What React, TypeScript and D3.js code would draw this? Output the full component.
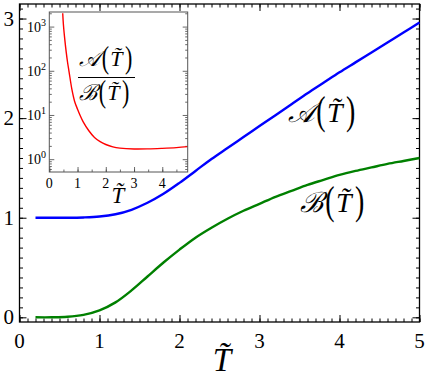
import React, { useEffect, useRef } from 'react';
import * as d3 from 'd3';

// main curves
const tGrid = [0.2, 0.4, 0.6, 0.8, 1.0, 1.2, 1.4, 1.6, 1.8, 2.0, 2.2, 2.4, 2.6, 2.8, 3.0, 3.2, 3.4, 3.6, 3.8, 4.0, 4.2, 4.4, 4.6, 4.8, 5.0];
const aVals = [1.0, 1.0, 1.0, 1.003, 1.012, 1.035, 1.08, 1.15, 1.24, 1.35, 1.47, 1.59, 1.7, 1.81, 1.92, 2.03, 2.14, 2.25, 2.355, 2.46, 2.56, 2.66, 2.76, 2.86, 2.96];
const bVals = [0.0, 0.0, 0.005, 0.025, 0.07, 0.15, 0.27, 0.41, 0.55, 0.68, 0.8, 0.9, 0.99, 1.07, 1.14, 1.21, 1.27, 1.33, 1.38, 1.43, 1.47, 1.505, 1.54, 1.57, 1.6];

// inset ratio A/B
const ratioT = [0.475, 0.5, 0.55, 0.6, 0.65, 0.7, 0.8, 0.9, 1.0, 1.1, 1.2, 1.4, 1.6, 1.8, 2.0, 2.25, 2.5, 3.0, 3.5, 4.0, 4.5, 4.9];
const ratioVals = [2000, 1100, 500, 260, 150, 95, 38, 20, 13.5, 9.5, 7, 4.4, 3.1, 2.5, 2.15, 1.9, 1.78, 1.7, 1.71, 1.76, 1.83, 1.92];

const xTicks = [0, 1, 2, 3, 4, 5];
const yTicks = [0, 1, 2, 3];
const insetXTicks = [0, 1, 2, 3, 4];
const insetYTicks = [1, 10, 100, 1000];

const W = 429;
const H = 379;
const serif = "'Liberation Serif', 'Times New Roman', 'DejaVu Serif', serif";

const App = () => {
    const svgRef = useRef(null);

    useEffect(() => {
        const svg = d3.select(svgRef.current);
        svg.selectAll('*').remove();

        const x = d3.scaleLinear().domain([0, 5]).range([19.5, 419.5]);
        const y = d3.scaleLinear().domain([-0.047, 3.146]).range([322, 4]);

        // frame ticks (inward, all four sides)
        const minorX = d3.range(0, 5.001, 0.1).map(v => +v.toFixed(2));
        const minorY = d3.range(0, 3.101, 0.1).map(v => +v.toFixed(2));

        const tickAxis = (axis, transform) => {
            const g = svg.append('g').attr('transform', transform).call(axis);
            g.select('.domain').remove();
            g.selectAll('line').attr('stroke', '#000').attr('stroke-width', 1);
            g.selectAll('text').remove();
        };
        tickAxis(d3.axisBottom(x).tickValues(minorX).tickSize(-3.5), `translate(0,322)`);
        tickAxis(d3.axisBottom(x).tickValues(xTicks).tickSize(-7), `translate(0,322)`);
        tickAxis(d3.axisTop(x).tickValues(minorX).tickSize(-3.5), `translate(0,4)`);
        tickAxis(d3.axisTop(x).tickValues(xTicks).tickSize(-7), `translate(0,4)`);
        tickAxis(d3.axisLeft(y).tickValues(minorY).tickSize(-3.5), `translate(19.5,0)`);
        tickAxis(d3.axisLeft(y).tickValues(yTicks).tickSize(-7), `translate(19.5,0)`);
        tickAxis(d3.axisRight(y).tickValues(minorY).tickSize(-3.5), `translate(419.5,0)`);
        tickAxis(d3.axisRight(y).tickValues(yTicks).tickSize(-7), `translate(419.5,0)`);

        svg.append('rect')
            .attr('x', 19.5).attr('y', 4)
            .attr('width', 400).attr('height', 318)
            .attr('fill', 'none')
            .attr('stroke', '#000')
            .attr('stroke-width', 1.3);

        // tick labels
        svg.selectAll('.xlab').data(xTicks).enter().append('text')
            .attr('x', d => x(d)).attr('y', 348)
            .attr('text-anchor', 'middle')
            .attr('font-family', serif).attr('font-size', 21)
            .text(d => d);
        svg.selectAll('.ylab').data(yTicks).enter().append('text')
            .attr('x', 14).attr('y', d => y(d) + 7)
            .attr('text-anchor', 'end')
            .attr('font-family', serif).attr('font-size', 21)
            .text(d => d);

        svg.append('text')
            .attr('x', 222).attr('y', 371)
            .attr('text-anchor', 'middle')
            .attr('font-family', serif).attr('font-size', 33).attr('font-style', 'italic')
            .text('T\u0303');

        // curves
        const line = d3.line().x(d => x(d[0])).y(d => y(d[1])).curve(d3.curveCatmullRom.alpha(0.5));
        svg.append('path')
            .attr('d', line(tGrid.map((t, i) => [t, bVals[i]])))
            .attr('fill', 'none').attr('stroke', '#008000').attr('stroke-width', 2.4);
        svg.append('path')
            .attr('d', line(tGrid.map((t, i) => [t, aVals[i]])))
            .attr('fill', 'none').attr('stroke', '#0000ff').attr('stroke-width', 2.4);

        // "L(T~)" labels with tall thin brackets
        const fnLabel = (parent, letter, px, py, size, stretch) => {
            const put = (txt, italic) => parent.append('text')
                .attr('font-family', serif).attr('font-size', size)
                .attr('font-style', italic ? 'italic' : 'normal')
                .text(txt);
            const a = put(letter, true).attr('x', px).attr('y', py);
            let cx = px + a.node().getComputedTextLength() + size * 0.08;
            const bracket = (ch) => {
                const b = put(ch, false)
                    .attr('transform', `translate(${cx},${py + size * 0.07}) scale(1,${stretch})`);
                cx += b.node().getComputedTextLength() + size * 0.05;
            };
            bracket('(');
            const tt = put('T\u0303', true).attr('x', cx).attr('y', py);
            cx += tt.node().getComputedTextLength() + size * 0.12;
            bracket(')');
            return cx;
        };
        fnLabel(svg, '\u{1D49C}', 288, 122, 28, 1.45);
        fnLabel(svg, '\u212C', 300, 212, 28, 1.45);

        // inset
        const ix = d3.scaleLinear().domain([0, 4.9]).range([49.3, 187.7]);
        const iy = d3.scaleLog().domain([Math.pow(10, -0.29), Math.pow(10, 3.33)]).range([172, 12]);

        const inset = svg.append('g');
        inset.append('rect')
            .attr('x', 49.3).attr('y', 12)
            .attr('width', 138.4).attr('height', 160)
            .attr('fill', '#fff');

        const iMinorX = d3.range(0, 4.9, 0.5);
        const iMinorY = [];
        [0.1, 1, 10, 100, 1000].forEach(dec => {
            for (let k = 2; k <= 9; k++) {
                const v = dec * k;
                if (v > iy.domain()[0] && v < iy.domain()[1]) iMinorY.push(v);
            }
        });
        const insetAxis = (axis, transform) => {
            const g = inset.append('g').attr('transform', transform).call(axis);
            g.select('.domain').remove();
            g.selectAll('line').attr('stroke', '#444').attr('stroke-width', 0.8);
            g.selectAll('text').remove();
        };
        insetAxis(d3.axisBottom(ix).tickValues(iMinorX).tickSize(-2.5), 'translate(0,172)');
        insetAxis(d3.axisBottom(ix).tickValues(insetXTicks).tickSize(-5), 'translate(0,172)');
        insetAxis(d3.axisLeft(iy).tickValues(iMinorY).tickSize(-2.5), 'translate(49.3,0)');
        insetAxis(d3.axisLeft(iy).tickValues(insetYTicks).tickSize(-5), 'translate(49.3,0)');
        insetAxis(d3.axisRight(iy).tickValues(iMinorY).tickSize(-2.5), 'translate(187.7,0)');
        insetAxis(d3.axisRight(iy).tickValues(insetYTicks).tickSize(-5), 'translate(187.7,0)');

        inset.append('clipPath').attr('id', 'insetClip')
            .append('rect').attr('x', 49.3).attr('y', 12).attr('width', 138.4).attr('height', 160);

        const rline = d3.line().x(d => ix(d[0])).y(d => iy(d[1])).curve(d3.curveCatmullRom.alpha(0.5));
        inset.append('path')
            .attr('clip-path', 'url(#insetClip)')
            .attr('d', rline(ratioT.map((t, i) => [t, ratioVals[i]])))
            .attr('fill', 'none').attr('stroke', '#ff0000').attr('stroke-width', 1.4);

        inset.append('rect')
            .attr('x', 49.3).attr('y', 12)
            .attr('width', 138.4).attr('height', 160)
            .attr('fill', 'none')
            .attr('stroke', '#555')
            .attr('stroke-width', 1);

        inset.selectAll('.ixlab').data(insetXTicks).enter().append('text')
            .attr('x', d => ix(d)).attr('y', 188)
            .attr('text-anchor', 'middle')
            .attr('font-family', serif).attr('font-size', 14)
            .text(d => d);
        insetYTicks.forEach(v => {
            const t = inset.append('text')
                .attr('x', 46).attr('y', iy(v) + 5)
                .attr('text-anchor', 'end')
                .attr('font-family', serif).attr('font-size', 14);
            t.append('tspan').text('10');
            t.append('tspan').attr('dy', -6).attr('font-size', 10).text(Math.round(Math.log10(v)));
        });
        inset.append('text')
            .attr('x', 118).attr('y', 203)
            .attr('text-anchor', 'middle')
            .attr('font-family', serif).attr('font-size', 23).attr('font-style', 'italic')
            .text('T\u0303');

        // fraction label
        fnLabel(inset, '\u{1D49C}', 79, 66, 22, 1.4);
        inset.append('line')
            .attr('x1', 78).attr('x2', 135)
            .attr('y1', 77.5).attr('y2', 77.5)
            .attr('stroke', '#000').attr('stroke-width', 1);
        fnLabel(inset, '\u212C', 79, 100, 22, 1.4);
    }, []);

    return (
        <div style={{ position: 'absolute', left: 0, top: 0 }}>
            <svg ref={svgRef} width={W} height={H} style={{ display: 'block', background: '#fff' }}></svg>
        </div>
    );
};

export default App;
